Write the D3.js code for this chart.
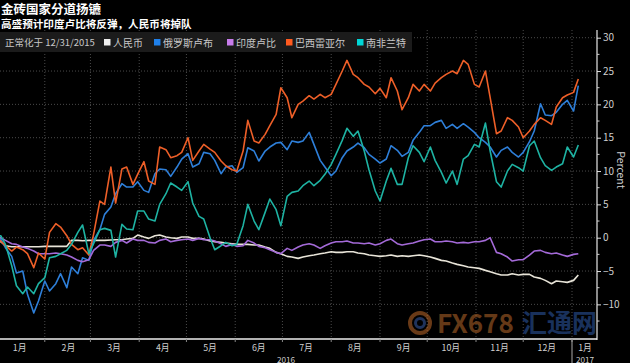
<!DOCTYPE html>
<html><head><meta charset="utf-8">
<script src="https://cdn.jsdelivr.net/npm/d3@7"></script>
<style>
html,body{margin:0;padding:0;background:#000;}
svg{display:block;}
text{font-family:"Noto Sans CJK SC","Noto Sans",sans-serif;}
</style></head><body>
<svg id="chart" width="630" height="363"></svg>
<script>
const dates = ["2015-12-31","2016-01-04","2016-01-07","2016-01-11","2016-01-14","2016-01-18","2016-01-21","2016-01-25","2016-01-28","2016-02-01","2016-02-04","2016-02-08","2016-02-11","2016-02-15","2016-02-18","2016-02-22","2016-02-25","2016-02-29","2016-03-03","2016-03-07","2016-03-10","2016-03-14","2016-03-17","2016-03-21","2016-03-24","2016-03-28","2016-03-31","2016-04-04","2016-04-07","2016-04-11","2016-04-14","2016-04-18","2016-04-21","2016-04-25","2016-04-28","2016-05-02","2016-05-05","2016-05-09","2016-05-12","2016-05-16","2016-05-19","2016-05-23","2016-05-26","2016-05-30","2016-06-02","2016-06-06","2016-06-09","2016-06-13","2016-06-16","2016-06-20","2016-06-23","2016-06-27","2016-06-30","2016-07-04","2016-07-07","2016-07-11","2016-07-14","2016-07-18","2016-07-21","2016-07-25","2016-07-28","2016-08-01","2016-08-04","2016-08-08","2016-08-11","2016-08-15","2016-08-18","2016-08-22","2016-08-25","2016-08-29","2016-09-01","2016-09-05","2016-09-08","2016-09-12","2016-09-15","2016-09-19","2016-09-22","2016-09-26","2016-09-29","2016-10-03","2016-10-06","2016-10-10","2016-10-13","2016-10-17","2016-10-20","2016-10-24","2016-10-27","2016-10-31","2016-11-03","2016-11-07","2016-11-10","2016-11-14","2016-11-17","2016-11-21","2016-11-24","2016-11-28","2016-12-01","2016-12-05","2016-12-08","2016-12-12","2016-12-15","2016-12-19","2016-12-22","2016-12-26","2016-12-29","2017-01-02","2017-01-05"];

const cny = [0,-0.6,-1.2,-1.35,-1.35,-1.35,-1.35,-1.35,-1.35,-1.3,-1.3,-1.3,-1.3,-1.3,-0.4,-0.4,-0.45,-0.4,-0.4,-0.4,-0.4,-0.35,-0.3,-0.3,-0.2,-0.1,0.4,0.1,-0.1,0.3,0.4,0.1,0,-0.1,0.1,0.1,-0.1,-0.1,-0.2,-0.5,-0.6,-0.7,-0.8,-0.9,-1,-1,-1,-1.1,-1.1,-1.4,-1.6,-2.2,-2.4,-2.8,-2.9,-3.1,-2.9,-2.7,-2.6,-2.4,-2.3,-2.1,-2.2,-2.2,-2.1,-2.1,-2.3,-2.4,-2.6,-2.7,-2.8,-2.7,-2.6,-2.8,-2.7,-2.8,-2.7,-2.6,-2.7,-2.9,-3.1,-3.4,-3.5,-3.8,-4,-4.2,-4.4,-4.5,-4.6,-4.9,-5.1,-5.4,-5.6,-5.6,-5.4,-5.6,-5.5,-5.5,-5.9,-6.1,-6.4,-6.9,-6.5,-6.6,-6.7,-6.4,-5.6];
const rub = [0,-0.2,-1.5,-2.8,-5.3,-5,-8.5,-11.3,-9.5,-6.5,-8,-6.9,-5.4,-7.5,-4.4,-5.4,-3,-3.4,-0.4,1.2,3.5,4.6,6.6,8.1,7.6,7.6,8.4,7.1,6.8,9.6,10.3,10.2,9.2,10.6,11.8,12.6,10.6,11.1,12.8,12.6,11.6,9.6,10.6,10.8,9.8,10.5,13.5,13,11.5,13,13.6,14.2,14.3,13.2,14.5,14.3,14.5,15.8,14,11.6,10.6,9.3,10,12,13,13.6,14.2,13.5,12.5,11.8,11.2,11.8,13.8,13.1,12.2,12.8,14.6,15.8,16.8,16.8,17.3,17.6,16.4,17,16.4,17.1,16.6,15.8,15,14.3,13.6,12.1,13.1,13.6,12.8,12.1,12.8,14.4,16,20.1,18.4,18.3,18.8,20,20.6,19,22.8];
const inr = [0,0,-0.4,-0.9,-1,-1.4,-1.6,-2,-2.4,-2.4,-2.4,-2.3,-2.4,-2.6,-2.9,-3.4,-3.6,-3.3,-1.9,-1.1,-1.1,-1.3,-0.7,-0.4,-0.8,-0.2,-0.4,-0.4,-0.7,-0.8,-0.4,-0.2,-0.6,-0.4,-0.3,-0.2,-0.4,-0.1,-0.3,-0.3,-0.5,-0.9,-1.3,-1,-1.3,-1.2,-0.4,-0.8,-1.3,-1.5,-1.8,-2.2,-2.4,-1.6,-1.9,-1.4,-1.1,-0.9,-1.1,-1.6,-1.2,-0.8,-0.6,-0.6,-0.5,-0.8,-0.8,-0.9,-0.8,-1.1,-0.9,-0.4,-0.2,-0.9,-1.1,-0.9,-0.8,-0.5,-0.3,-0.2,-0.6,-0.6,-0.5,-0.6,-0.8,-0.7,-0.8,-0.6,-0.6,-0.4,0,-2.2,-2.4,-2.9,-3.5,-3.3,-3.3,-2.6,-2,-1.9,-2.2,-2.4,-2.3,-2.6,-2.8,-2.5,-2.4];
const brl = [0,-0.5,-1.2,-2,-1.4,-1.8,-2.4,-4.5,-2.3,-3.2,0.8,2.1,1.6,0.3,-1,-1.8,-1.5,-2.6,0.5,5.5,5,10.6,5.2,10.3,10.6,8,9.5,11.4,8.5,8,13.6,13.2,12,12.3,12.8,15,11.6,13,14,13.3,12.8,11.5,10.8,10.2,10,13,17.6,14.5,14.2,15.5,16.8,18.5,22.5,21,18,20,20.5,21.3,20.8,21.5,21,21.5,23,25,26.6,24.5,24,23,22.6,21.6,22.4,21,24,22,19.2,21,23,22,23,22,23.2,24,24.5,25,24.6,26.6,26,23,22.6,25,21,15.6,16,18,17.6,16.6,15,16,17,18,17.6,17,19.6,21,21.4,21.8,23.8];
const zar = [0,0.3,-1,-4.2,-7.2,-8.4,-7.4,-8.4,-6.9,-6,-3,-2.8,-2.4,-1.9,-1,0.8,1.9,-2.4,-0.9,1.2,1.4,1.1,-2.9,2,1.3,1.2,4,4,2.8,2.5,5,6.6,8.2,7.6,7.1,8.4,5.2,3.2,2.8,0,-1.8,-1.2,-0.7,-1.2,-1,1.8,5,2.5,1.2,3.8,5.8,4.2,1.8,6.2,6.8,7,7.8,8.5,7.8,8.6,9.5,11,12.5,14.6,16.4,15.2,16,13,10.2,7,5.5,8.5,10.4,8,8,12,13.8,12.8,11.4,13.6,11.6,9.8,8.2,10,8,11.8,12.3,14,13.6,17.2,13,8.4,7.6,10,11,10.5,10,13.8,14.5,12,10.8,10.1,10.6,11.1,13.6,12.1,13.9];

const seriesNames = ["人民币","俄罗斯卢布","印度卢比","巴西雷亚尔","南非兰特"];
const seriesValues = [cny, rub, inr, brl, zar];
const lineColors = ["#e8e4d8","#2e7fd9","#a46ad8","#ee5f28","#1eb3a3"];
const legendColors = ["#eeeeee","#1f80ea","#c77ceb","#ff5a1f","#00d6d6"];
const monthLabels = ["1月","2月","3月","4月","5月","6月","7月","8月","9月","10月","11月","12月","1月"];
const yTicks = [30,25,20,15,10,5,0,-5,-10];

const svg = d3.select("#chart");
const W = 630, H = 363;
const pLeft = 0, pRight = 597, pTop = 30, pBottom = 339;
const parse = d3.timeParse("%Y-%m-%d");

const x = d3.scaleTime().domain([parse("2016-01-01"), parse("2017-01-01")]).range([-4, 572]);
const y = d3.scaleLinear().domain([-15, 30]).range([337.7, 37.7]);

svg.append("rect").attr("width", W).attr("height", H).attr("fill", "#000");

// title
svg.append("text").attr("x", 1).attr("y", 13.5).attr("fill", "#fff")
  .attr("font-size", 12.5).attr("font-weight", "bold").text("金砖国家分道扬镳");
svg.append("text").attr("x", 1).attr("y", 28).attr("fill", "#fff")
  .attr("font-size", 10.6).attr("font-weight", "bold").text("高盛预计印度卢比将反弹，人民币将掉队");

// gridlines
const g = svg.append("g");
yTicks.forEach(v => {
  g.append("line").attr("x1", pLeft).attr("x2", pRight).attr("y1", y(v)).attr("y2", y(v))
    .attr("stroke", "#4a4a4a").attr("stroke-width", 1).attr("stroke-dasharray", "1,2");
});
const monthStarts = d3.timeMonth.range(parse("2016-02-01"), parse("2017-01-02"));
monthStarts.forEach(d => {
  g.append("line").attr("x1", x(d)).attr("x2", x(d)).attr("y1", pTop).attr("y2", pBottom)
    .attr("stroke", "#4a4a4a").attr("stroke-width", 1).attr("stroke-dasharray", "1,2");
});

// legend bar
svg.append("rect").attr("x", 0).attr("y", 32).attr("width", 412).attr("height", 20).attr("fill", "#1b1b1b");
svg.append("text").attr("x", 5).attr("y", 46).attr("fill", "#c8c8c8").attr("font-size", 9.5)
  .text("正常化于 12/31/2015");
const legX = [104, 154, 227, 286, 357];
seriesNames.forEach((n, i) => {
  svg.append("rect").attr("x", legX[i]).attr("y", 39).attr("width", 6.5).attr("height", 6.5).attr("fill", legendColors[i]);
  svg.append("text").attr("x", legX[i] + 9).attr("y", 46.5).attr("fill", "#c8c8c8").attr("font-size", 10).text(n);
});

// watermark
const wm = svg.append("g").attr("opacity", 0.55);
wm.append("circle").attr("cx", 420).attr("cy", 323).attr("r", 10).attr("fill", "none").attr("stroke", "#c06a2a").attr("stroke-width", 4);
wm.append("circle").attr("cx", 420).attr("cy", 323).attr("r", 4.5).attr("fill", "none").attr("stroke", "#3a5ea8").attr("stroke-width", 3);
wm.append("text").attr("x", 437).attr("y", 333).attr("fill", "#b8682a").attr("font-size", 26)
  .attr("font-weight", "bold").attr("font-family", "Liberation Sans, sans-serif").text("FX678");
wm.append("text").attr("x", 522).attr("y", 332).attr("fill", "#2e5aa8").attr("font-size", 25)
  .attr("font-weight", "bold").text("汇通网");

// lines
svg.append("clipPath").attr("id", "clip").append("rect").attr("x", pLeft).attr("y", pTop).attr("width", pRight - pLeft).attr("height", pBottom - pTop);
const line = d3.line().x((d, i) => x(parse(dates[i]))).y(d => y(d)).curve(d3.curveLinear);
const lg = svg.append("g").attr("clip-path", "url(#clip)");
seriesValues.forEach((vals, i) => {
  lg.append("path").datum(vals).attr("d", line).attr("fill", "none")
    .attr("stroke", lineColors[i]).attr("stroke-width", 1.6).attr("stroke-linejoin", "round");
});

// right axis
const yAxis = d3.axisRight(y).tickValues(yTicks).tickSize(4).tickPadding(2).tickFormat(d3.format("d"));
const ya = svg.append("g").attr("transform", `translate(${pRight},0)`).call(yAxis);
ya.select(".domain").remove();
ya.selectAll(".tick line").attr("stroke", "#ddd");
ya.selectAll(".tick text").attr("fill", "#cfcfcf").attr("font-size", 10).attr("font-family", "Noto Sans, sans-serif");
svg.append("line").attr("x1", pRight).attr("x2", pRight).attr("y1", pTop).attr("y2", pBottom + 1).attr("stroke", "#e8e8e8").attr("stroke-width", 1.2);
const minor = d3.range(-12.5, 31, 5);
minor.forEach(v => {
  svg.append("line").attr("x1", pRight).attr("x2", pRight + 2.5).attr("y1", y(v)).attr("y2", y(v)).attr("stroke", "#ccc");
});
svg.append("text").attr("transform", `translate(617,170) rotate(90)`).attr("fill", "#cfcfcf")
  .attr("font-size", 10.5).attr("text-anchor", "middle").attr("font-family", "Noto Sans, sans-serif").text("Percent");

// bottom axis
svg.append("line").attr("x1", 0).attr("x2", pRight).attr("y1", pBottom).attr("y2", pBottom).attr("stroke", "#eee").attr("stroke-width", 1.5);
const monthMids = d3.timeMonth.range(parse("2016-01-01"), parse("2017-01-02")).map(d => d3.timeDay.offset(d, 15));
monthMids.forEach((d, i) => {
  const xx = i < 12 ? x(d) : 585;
  svg.append("text").attr("x", xx).attr("y", 351).attr("text-anchor", "middle").attr("fill", "#cfcfcf")
    .attr("font-size", 8.8).text(monthLabels[i]);
});
monthStarts.forEach(d => {
  svg.append("line").attr("x1", x(d)).attr("x2", x(d)).attr("y1", pBottom).attr("y2", pBottom + 3).attr("stroke", "#888");
});
svg.append("line").attr("x1", x(parse("2017-01-01"))).attr("x2", x(parse("2017-01-01"))).attr("y1", pBottom).attr("y2", H)
  .attr("stroke", "#aaa").attr("stroke-width", 1);
svg.append("text").attr("x", 286).attr("y", 362.5).attr("text-anchor", "middle").attr("fill", "#cfcfcf").attr("font-size", 8.2)
  .attr("font-family", "Liberation Sans, sans-serif").text("2016");
svg.append("text").attr("x", 585).attr("y", 362.5).attr("text-anchor", "middle").attr("fill", "#cfcfcf").attr("font-size", 8.2)
  .attr("font-family", "Liberation Sans, sans-serif").text("2017");
</script>
</body></html>
